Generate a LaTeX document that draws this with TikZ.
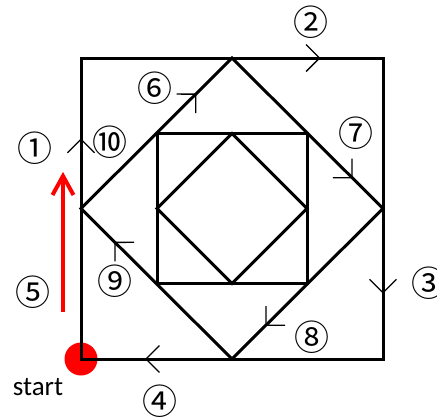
\documentclass[tikz,border=0pt]{standalone}
\usepackage{fontspec}
\setmainfont{Carlito}
\newfontfamily\cjk{Noto Sans CJK JP}
\usetikzlibrary{decorations.markings}
\tikzset{
  edge/.style={draw=black, line width=3pt, line join=miter},
  chev/.style={postaction={decorate}, decoration={markings,
     mark=at position #1 with {\draw[line width=1.3pt, black, line join=miter] (-13.5pt,13.5pt) -- (0pt,0pt) -- (-13.5pt,-13.5pt);}}},
  num/.style={font=\cjk\fontsize{35}{35}\selectfont, inner sep=0pt},
  redarrow/.style={draw=red, line width=4pt, line join=miter},
}
\begin{document}
\begin{tikzpicture}[x=1pt, y=-1pt]
\useasboundingbox (0,0) rectangle (437,416);
% outer square
\coordinate (BL) at (81,359);
\coordinate (TL) at (81,58);
\coordinate (TR) at (383,58);
\coordinate (BR) at (383,359);
% diamond
\coordinate (DT) at (232,58);
\coordinate (DR) at (383,208.5);
\coordinate (DB) at (232,359);
\coordinate (DL) at (81,208.5);
% inner square
\coordinate (ITL) at (157,133.5);
\coordinate (ITR) at (307,133.5);
\coordinate (IBR) at (307,283.5);
\coordinate (IBL) at (157,283.5);
% inner diamond
\coordinate (JT) at (232,133.5);
\coordinate (JR) at (307,208.5);
\coordinate (JB) at (232,283.5);
\coordinate (JL) at (157,208.5);

% start dot
\fill[red] (BL) circle (16.5pt);

\draw[edge] (BL) -- (TL) -- (TR) -- (BR) -- cycle;
\draw[edge] (DL) -- (DT) -- (DR) -- (DB) -- cycle;
\draw[edge] (ITL) -- (ITR) -- (IBR) -- (IBL) -- cycle;
\draw[edge] (JL) -- (JT) -- (JR) -- (JB) -- cycle;

% direction marks
\path[chev=0.73] (BL) -- (TL);
\path[chev=0.79] (TL) -- (TR);
\path[chev=0.78] (TR) -- (BR);
\path[chev=0.785] (BR) -- (BL);
\path[chev=0.76] (DL) -- (DT);
\path[chev=0.795] (DT) -- (DR);
\path[chev=0.775] (DR) -- (DB);
\path[chev=0.775] (DB) -- (DL);

% red arrow
\coordinate (RA0) at (63,312);
\coordinate (RA1) at (63,176);
\coordinate (RAl) at (52.5,195);
\coordinate (RAr) at (73.5,195);
\draw[redarrow] (RA0) -- (RA1);
\draw[redarrow] (RAl) -- (RA1) -- (RAr);

% labels
\node[num] (n1) at (35,148) {①};
\node[num] (n2) at (311,22) {②};
\node[num] (n3) at (429,283) {③};
\node[num] (n4) at (160,401) {④};
\node[num] (n5) at (33,292) {⑤};
\node[num] (n6) at (155,88) {⑥};
\node[num] (n7) at (356,133) {⑦};
\node[num] (n8) at (312,337) {⑧};
\node[num] (n9) at (115,281) {⑨};
\node[num] (n10) at (110,142) {⑩};
\node[font=\fontsize{27}{27}\selectfont, inner sep=0pt] (st) at (38,387) {start};
\end{tikzpicture}
\end{document}
